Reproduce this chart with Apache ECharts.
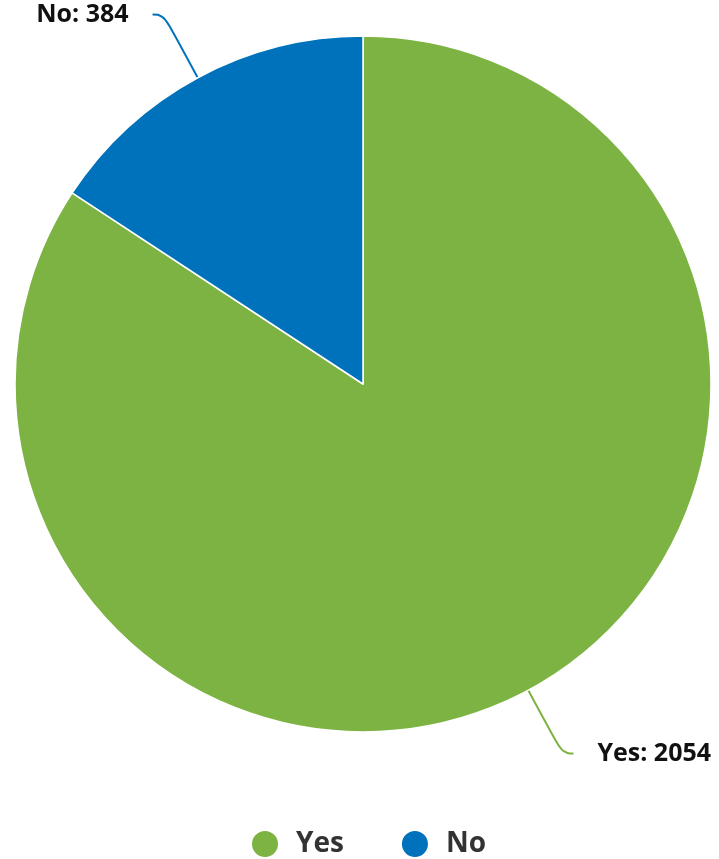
<!DOCTYPE html>
<html>
<head>
<meta charset="utf-8">
<script src="https://cdn.jsdelivr.net/npm/echarts@6/dist/echarts.min.js"></script>
<style>html,body{margin:0;padding:0;background:#fff}#c{width:719px;height:859px}</style>
</head>
<body>
<div id="c"></div>
<script>
var categories = ['Yes', 'No'];
var values = [2054, 384];
var colors = ['#7db343', '#0072bc'];

var chart = echarts.init(document.getElementById('c'), null, {renderer: 'canvas'});
chart.setOption({
  animation: false,
  color: colors,
  legend: {
    data: categories,
    top: 829,
    left: 250,
    padding: 0,
    icon: 'circle',
    itemWidth: 28,
    itemHeight: 28,
    itemGap: 56,
    textStyle: {fontFamily: 'Open Sans', fontWeight: 'bold', fontSize: 28, color: '#333', padding: [0, 0, 0, 12]}
  },
  series: [{
    type: 'pie',
    center: [363, 384],
    radius: [0, 348],
    startAngle: 90,
    clockwise: true,
    avoidLabelOverlap: false,
    itemStyle: {borderColor: '#fff', borderWidth: 1.5},
    label: {
      show: true,
      position: 'outside',
      formatter: '{b}: {c}',
      fontFamily: 'Open Sans',
      fontWeight: 'bold',
      fontSize: 25,
      color: '#111',
      distanceToLabelLine: 24
    },
    labelLine: {show: true, length: 72, length2: 11, smooth: 0.5, lineStyle: {width: 2}},
    emphasis: {disabled: true},
    data: categories.map(function (c, i) { return {name: c, value: values[i]}; })
  }]
});
</script>
</body>
</html>
